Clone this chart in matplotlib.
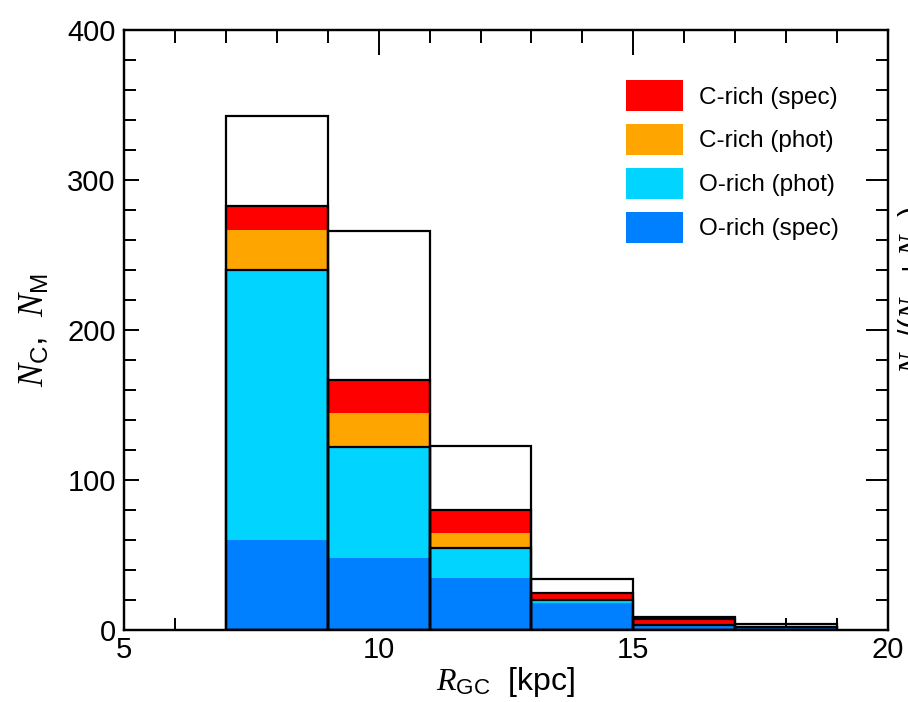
import matplotlib
matplotlib.use("Agg")
import matplotlib.pyplot as plt
from matplotlib.patches import Patch
from matplotlib.ticker import MultipleLocator
from matplotlib import font_manager

# Galactocentric radius bins (left edges, kpc) and bin width
bin_left = [7, 9, 11, 13, 15, 17]
bin_width = 2

# Counts per bin for each class (stacked from the bottom)
o_rich_spec = [60, 48, 35, 18, 3.5, 2]
o_rich_phot = [180, 74, 20, 2, 0, 0]
c_rich_phot = [27, 23, 10, 1, 0, 0]
c_rich_spec = [16, 22, 15, 4, 4, 0]
# Total sample per bin (open outline)
total_all = [343, 266, 123, 34, 9, 4]

colors = {
    "C-rich (spec)": "#ff0000",
    "C-rich (phot)": "#ffa500",
    "O-rich (phot)": "#00d4ff",
    "O-rich (spec)": "#0080ff",
}

names = {f.name for f in font_manager.fontManager.ttflist}
text_font = "Liberation Sans Narrow" if "Liberation Sans Narrow" in names else "Liberation Sans"

plt.rcParams["font.family"] = ["Liberation Sans", "DejaVu Sans"]
plt.rcParams["mathtext.fontset"] = "custom"
plt.rcParams["mathtext.it"] = "Liberation Serif:italic"
plt.rcParams["mathtext.rm"] = "Liberation Sans"
plt.rcParams["mathtext.sf"] = "Liberation Sans"

fig = plt.figure(figsize=(9.08, 7.02), dpi=100)
ax = fig.add_axes([124 / 908, 1 - 630 / 702, 764 / 908, 600 / 702])

# Stacked filled segments
bottom = [0.0] * len(bin_left)
for vals, key in [(o_rich_spec, "O-rich (spec)"), (o_rich_phot, "O-rich (phot)"),
                  (c_rich_phot, "C-rich (phot)"), (c_rich_spec, "C-rich (spec)")]:
    ax.bar(bin_left, vals, width=bin_width, bottom=bottom, align="edge",
           color=colors[key], linewidth=0, zorder=2)
    bottom = [b + v for b, v in zip(bottom, vals)]

# Outlines: O-rich total, O+C total, and full sample
o_total = [a + b for a, b in zip(o_rich_spec, o_rich_phot)]
oc_total = [a + b + c for a, b, c in zip(o_total, c_rich_phot, c_rich_spec)]
for heights in (o_total, oc_total, total_all):
    ax.bar(bin_left, heights, width=bin_width, align="edge", fill=False,
           edgecolor="black", linewidth=1.6, zorder=3)

ax.set_xlim(5, 20)
ax.set_ylim(0, 400)
ax.xaxis.set_major_locator(MultipleLocator(5))
ax.xaxis.set_minor_locator(MultipleLocator(1))
ax.yaxis.set_major_locator(MultipleLocator(100))
ax.yaxis.set_minor_locator(MultipleLocator(20))
ax.tick_params(axis="x", which="both", direction="in", top=True, bottom=True,
               width=1.4, labelsize=21, pad=4)
ax.tick_params(axis="x", which="major", length=18)
ax.tick_params(axis="x", which="minor", length=9)
ax.tick_params(axis="y", which="both", direction="in", left=True, right=False,
               width=1.4, labelsize=21, pad=6)
ax.tick_params(axis="y", which="major", length=11)
ax.tick_params(axis="y", which="minor", length=8.5)
for s in ax.spines.values():
    s.set_linewidth(1.6)

# Right-hand axis for the carbon-rich fraction
ax2 = ax.twinx()
ax2.set_ylim(0, 1)
ax2.yaxis.set_major_locator(MultipleLocator(0.25))
ax2.yaxis.set_minor_locator(MultipleLocator(0.05))
ax2.tick_params(axis="y", which="both", direction="in", width=1.4, labelright=False)
ax2.tick_params(axis="y", which="major", length=16)
ax2.tick_params(axis="y", which="minor", length=8.5)
for s in ax2.spines.values():
    s.set_linewidth(1.6)

ax.set_xlabel(r"$R_{\mathrm{GC}}$  [kpc]", fontsize=23)
ax.set_ylabel(r"$N_{\mathrm{C}}$,  $N_{\mathrm{M}}$", fontsize=25)
ax.xaxis.set_label_coords(0.5, -0.058)
ax.yaxis.set_label_coords(-0.095, 0.5)

fig.text(913 / 908, 1 - 290 / 702,
         r"$N_{\mathrm{C}}/(N_{\mathrm{C}}+N_{\mathrm{M}})$",
         rotation=90, ha="center", va="center", fontsize=22)

handles = [Patch(facecolor=colors[k], edgecolor="none", label=k) for k in colors]
leg = ax.legend(handles=handles, loc="upper left",
                bbox_to_anchor=(626 / 908, 1 - 80 / 702),
                bbox_transform=fig.transFigure, frameon=False,
                prop={"family": text_font, "size": 17.5},
                handlelength=2.35, handleheight=1.6, handletextpad=0.67,
                labelspacing=0.52, borderpad=0, borderaxespad=0)

fig.savefig("out.png", dpi=100)
